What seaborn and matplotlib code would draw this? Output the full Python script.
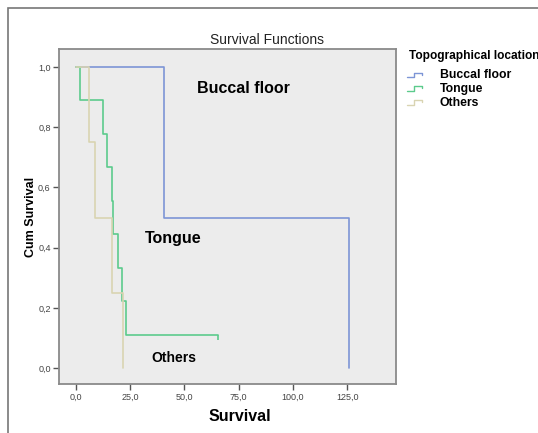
import numpy as np
import pandas as pd
import seaborn as sns
import matplotlib
matplotlib.use("Agg")
import matplotlib.pyplot as plt
from matplotlib.ticker import FuncFormatter, FixedLocator
from matplotlib.lines import Line2D
from matplotlib.legend_handler import HandlerBase
from matplotlib.patches import Rectangle

# ---- data (Kaplan-Meier step points) ----
groups = ["Buccal floor", "Tongue", "Others"]
buccal_time = [0, 40.5, 126.0]
buccal_surv = [1.0, 0.5, 0.0]
tongue_time = [0, 1.8, 12.4, 14.2, 16.6, 17.3, 19.2, 21.3, 23.3, 65.5]
tongue_surv = [1.0, 0.889, 0.778, 0.667, 0.556, 0.444, 0.333, 0.222, 0.111, 0.111]
others_time = [0, 6.1, 8.9, 16.7, 21.5]
others_surv = [1.0, 0.75, 0.5, 0.25, 0.0]
censor_time = [65.5]
censor_surv = [0.111]
x_ticks = [0, 25, 50, 75, 100, 125]
y_ticks = [0.0, 0.2, 0.4, 0.6, 0.8, 1.0]

colors = {"Buccal floor": "#7d95d6", "Tongue": "#5ccb8c", "Others": "#d9d4b2"}

frames = []
for g, t, s in [("Buccal floor", buccal_time, buccal_surv),
                ("Tongue", tongue_time, tongue_surv),
                ("Others", others_time, others_surv)]:
    frames.append(pd.DataFrame({"time": t, "surv": s, "group": g}))
df = pd.concat(frames, ignore_index=True)

sns.set_style("white")
plt.rcParams["font.family"] = ["Liberation Sans", "DejaVu Sans"]
plt.rcParams["text.color"] = "black"
plt.rcParams["axes.labelcolor"] = "black"

fig = plt.figure(figsize=(5.38, 4.33), dpi=100)
ax = fig.add_axes([59 / 538, (433 - 384) / 433, 337 / 538, (384 - 49) / 433])
ax.set_facecolor("#ececec")

sns.lineplot(data=df, x="time", y="surv", hue="group", hue_order=groups,
             palette=colors, estimator=None, sort=False, units="group",
             drawstyle="steps-post", linewidth=1.2, legend=False, ax=ax)

# censor tick
ax.vlines(censor_time, [v - 0.018 for v in censor_surv], censor_surv,
          color=colors["Tongue"], linewidth=1.2)

ax.set_xlim(-7.8, 147.5)
ax.set_ylim(-0.053, 1.06)
ax.xaxis.set_major_locator(FixedLocator(x_ticks))
ax.yaxis.set_major_locator(FixedLocator(y_ticks))
ax.xaxis.set_major_formatter(FuncFormatter(lambda v, p: f"{v:.1f}".replace(".", ",")))
ax.yaxis.set_major_formatter(FuncFormatter(lambda v, p: f"{v:.1f}".replace(".", ",")))
ax.tick_params(axis="both", direction="out", length=4, width=1, color="#555555",
               labelsize=6.5, labelcolor="#444444", pad=2, bottom=True, left=True)
for sp in ax.spines.values():
    sp.set_color("#8a8a8a")
    sp.set_linewidth(1.3)

fig.text(267 / 538, 1 - 40 / 433, "Survival Functions", fontsize=10, ha="center",
         va="center", color="#222222")
ax.set_xlabel("Survival", fontsize=11.5, fontweight="bold")
ax.xaxis.set_label_coords((240 - 59) / 337, -(409 - 384) / 335)
ax.set_ylabel("Cum Survival", fontsize=9, fontweight="bold")
ax.yaxis.set_label_coords(-(59 - 37) / 337, 0.5)

ax.text(77, 0.93, "Buccal floor", fontsize=11.5, fontweight="bold", ha="center", va="center")
ax.text(45, 0.43, "Tongue", fontsize=11.5, fontweight="bold", ha="center", va="center")
ax.text(45, 0.033, "Others", fontsize=10, fontweight="bold", ha="center", va="center")


class StepHandler(HandlerBase):
    def create_artists(self, legend, orig_handle, xdescent, ydescent, width,
                       height, fontsize, trans):
        x0 = -xdescent
        y0, y1 = -ydescent + height * 0.15, -ydescent + height * 0.7
        xs = [x0, x0 + width * 0.4, x0 + width * 0.4, x0 + width * 0.85, x0 + width * 0.85]
        ys = [y0, y0, y1, y1, y0 + height * 0.3]
        ln = Line2D(xs, ys, color=orig_handle.get_color(), linewidth=1.0, transform=trans)
        return [ln]


fig.text(409 / 538, 1 - 56.5 / 433, "Topographical location", fontsize=8.6,
         fontweight="bold", ha="left", va="center")

handles = [Line2D([], [], color=colors[g]) for g in groups]
leg = fig.legend(handles, groups, loc="upper left", bbox_to_anchor=(407 / 538, 1 - 69.5 / 433),
                 frameon=False,
                 prop={"weight": "bold", "size": 8.8},
                 handler_map={Line2D: StepHandler()}, handlelength=1.4,
                 handletextpad=1.3, labelspacing=0.15,
                 borderaxespad=0, borderpad=0)

fig.patches.append(Rectangle((8 / 538, -0.1), 1.2, 1 - 8 / 433 + 0.1,
                             transform=fig.transFigure, fill=False,
                             edgecolor="#777777", linewidth=1.2))

fig.savefig("out.png", dpi=100)
